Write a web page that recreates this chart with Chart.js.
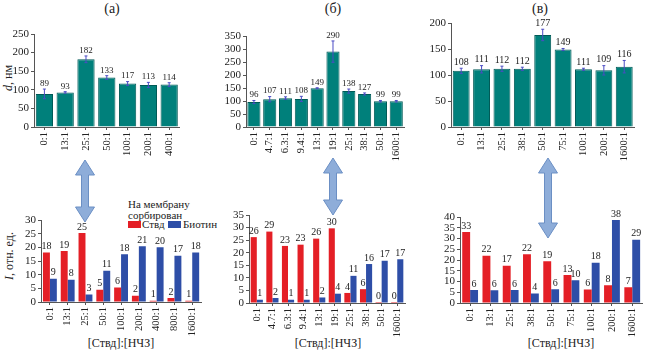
<!DOCTYPE html>
<html>
<head>
<meta charset="utf-8">
<script src="https://cdn.jsdelivr.net/npm/chart.js@4.4.1/dist/chart.umd.min.js"></script>
<style>
body { margin:0; background:#fff; width:647px; height:352px; position:relative; overflow:hidden; font-family:'Liberation Serif', serif; color:#222; }
.box { position:absolute; line-height:0; }
.box canvas { display:block; }
.t { position:absolute; white-space:nowrap; line-height:1; font-family:'Liberation Serif', serif; }
.c { transform:translate(-50%,-50%); }
.r { transform:translate(-50%,-50%) rotate(-90deg); }
.sw { position:absolute; width:13px; height:7px; }
</style>
</head>
<body>

<div class="t c" style="left:112px;top:9px;font-size:14px">(а)</div>
<div class="t c" style="left:333px;top:9px;font-size:14px">(б)</div>
<div class="t c" style="left:540px;top:9px;font-size:14px">(в)</div>

<div class="t r" style="left:8px;top:78px;font-size:12px"><i>d</i>, нм</div>
<div class="t r" style="left:9px;top:256px;font-size:12px"><i>I</i>, отн. ед.</div>

<div class="t c" style="left:121px;top:343px;font-size:12px">[Ствд]:[НЧЗ]</div>
<div class="t c" style="left:328px;top:343px;font-size:12px">[Ствд]:[НЧЗ]</div>
<div class="t c" style="left:561px;top:343px;font-size:12px">[Ствд]:[НЧЗ]</div>

<div class="t" style="left:128px;top:199px;font-size:11px">На мембрану</div>
<div class="t" style="left:128px;top:210px;font-size:11px">сорбирован</div>
<div class="sw" style="left:128px;top:221px;background:#e41f26"></div>
<div class="t" style="left:142px;top:219px;font-size:11px">Ствд</div>
<div class="sw" style="left:168px;top:221px;background:#2e4ea7"></div>
<div class="t" style="left:183px;top:219px;font-size:11px">Биотин</div>

<div id="holder"></div>
<svg id="arrows" width="647" height="352" style="position:absolute;left:0;top:0;pointer-events:none"></svg>

<script>
'use strict';

// ---- top row: particle size, nm ----
var catsTopA = ['0:1', '13:1', '25:1', '50:1', '100:1', '200:1', '400:1'];
var sizeA = [89, 93, 182, 133, 117, 113, 114];
var errA = [13, 2, 9, 5, 5, 7, 5];

var catsTopB = ['0:1', '4.7:1', '6.3:1', '9.4:1', '13:1', '19:1', '25:1', '38:1', '50:1', '1600:1'];
var sizeB = [96, 107, 111, 108, 149, 290, 138, 127, 99, 99];
var errB = [6, 10, 5, 10, 2, 41, 8, 4, 3, 3];

var catsTopC = ['0:1', '13:1', '25:1', '38:1', '50:1', '75:1', '100:1', '200:1', '1600:1'];
var sizeC = [108, 111, 112, 112, 177, 149, 111, 109, 116];
var errC = [5, 7, 5, 3, 11, 2, 2, 9, 12];

// ---- bottom row: intensity ----
var catsBotA = ['0:1', '13:1', '25:1', '50:1', '100:1', '200:1', '400:1', '800:1', '1600:1'];
var stvdA = [18.1, 18.7, 25.2, 4.5, 5.3, 2.3, 0.5, 1.5, 0.5];
var stvdLblA = [18, 19, 25, 5, 6, 2, 1, 2, 1];
var biotA = [8.5, 8.1, 2.7, 11.4, 17.5, 20.4, 20, 16.9, 18.1];
var biotLblA = [9, 8, 3, 11, 18, 21, 20, 17, 18];

var catsBotB = ['0:1', '4.7:1', '6.3:1', '9.4:1', '13:1', '19:1', '25:1', '38:1', '50:1', '1600:1'];
var stvdB = [26.2, 28.4, 22.7, 23.2, 25.6, 29.7, 4, 5.5, 0.4, 0.4];
var stvdLblB = [26, 29, 23, 23, 26, 30, 4, 6, 0, 0];
var biotB = [1.3, 2, 1.3, 1.3, 2.2, 3.7, 10.8, 15.5, 16.8, 17.4];
var biotLblB = [1, 2, 1, 1, 2, 4, 11, 16, 17, 17];

var catsBotC = ['0:1', '13:1', '25:1', '38:1', '50:1', '75:1', '100:1', '200:1', '1600:1'];
var stvdC = [33, 22, 17.3, 22.7, 19.4, 13, 6.3, 8.3, 7.3];
var stvdLblC = [33, 22, 17, 22, 19, 13, 6, 8, 7];
var biotC = [6.1, 5.9, 6.1, 4.4, 6.4, 10.6, 18.7, 38.6, 29.4];
var biotLblC = [6, 6, 6, 4, 6, 10, 18, 38, 29];

var FONT = 'Liberation Serif';
var AXIS = '#555';
var TEAL = '#00807b', TEAL_EDGE = '#005a57';
var RED = '#e41f26', BLUE = '#2e4ea7';

Chart.defaults.font.family = FONT;

// value labels and error bars
var barText = {
  id: 'barText',
  afterDatasetsDraw: function (chart) {
    var c = chart.ctx, y = chart.scales.y;
    var size = chart.options.plugins.barText.size;
    c.save();
    c.font = size + "px 'Liberation Serif'";
    c.textAlign = 'center';
    c.textBaseline = 'bottom';
    chart.data.datasets.forEach(function (ds, i) {
      chart.getDatasetMeta(i).data.forEach(function (bar, j) {
        var top = bar.y;
        if (ds.err) {
          var hi = y.getPixelForValue(ds.data[j] + ds.err[j]);
          var lo = y.getPixelForValue(ds.data[j] - ds.err[j]);
          c.strokeStyle = '#4b4bc4';
          c.lineWidth = 1;
          c.beginPath();
          c.moveTo(bar.x, hi); c.lineTo(bar.x, lo);
          c.moveTo(bar.x - 1.5, hi); c.lineTo(bar.x + 1.5, hi);
          c.moveTo(bar.x - 1.5, lo); c.lineTo(bar.x + 1.5, lo);
          c.stroke();
          top = hi;
        }
        c.fillStyle = '#222';
        c.fillText(ds.lbl[j], bar.x, top - 1);
      });
    });
    c.restore();
  }
};

function panel(box, cats, datasets, ymax, step, lblSize) {
  var padT = 10;
  var w = box.r - box.l + box.yW + 3;
  var h = box.b - box.t + padT + box.xH;
  var div = document.createElement('div');
  div.className = 'box';
  div.style.left = (box.l - box.yW) + 'px';
  div.style.top = (box.t - padT) + 'px';
  var cv = document.createElement('canvas');
  cv.width = w; cv.height = h;
  cv.style.width = w + 'px'; cv.style.height = h + 'px';
  div.appendChild(cv);
  document.getElementById('holder').appendChild(div);

  return new Chart(cv, {
    type: 'bar',
    data: { labels: cats, datasets: datasets },
    options: {
      responsive: false,
      animation: false,
      layout: { padding: { top: padT, right: 3, left: 0, bottom: 0 } },
      plugins: { legend: { display: false }, tooltip: { enabled: false }, barText: { size: lblSize } },
      scales: {
        x: {
          offset: true,
          grid: { display: true, drawOnChartArea: false, offset: false, tickLength: 3, color: AXIS },
          border: { color: AXIS },
          ticks: { font: { family: FONT, size: 10.5 }, color: '#222', minRotation: 90, maxRotation: 90, autoSkip: false, padding: 2 },
          afterFit: function (s) { s.height = box.xH; }
        },
        y: {
          min: 0, max: ymax,
          grid: { display: true, drawOnChartArea: false, tickLength: 3, color: AXIS },
          border: { color: AXIS },
          ticks: { stepSize: step, autoSkip: false, font: { family: FONT, size: 11 }, color: '#222', padding: 2 },
          afterFit: function (s) { s.width = box.yW; }
        }
      }
    },
    plugins: [barText]
  });
}

function sizeSet(data, err) {
  return [{ data: data, err: err, lbl: data, backgroundColor: TEAL, borderColor: TEAL_EDGE, borderWidth: 1,
    categoryPercentage: 1, barPercentage: 0.83 }];
}
function pairSet(s, sl, b, bl) {
  return [
    { data: s, lbl: sl, backgroundColor: RED, categoryPercentage: 0.78, barPercentage: 1 },
    { data: b, lbl: bl, backgroundColor: BLUE, categoryPercentage: 0.78, barPercentage: 1 }
  ];
}

panel({ l: 34, r: 181, t: 34, b: 127, yW: 34, xH: 34 }, catsTopA, sizeSet(sizeA, errA), 250, 50, 9);
panel({ l: 246, r: 408, t: 36, b: 127, yW: 31, xH: 34 }, catsTopB, sizeSet(sizeB, errB), 350, 50, 9);
panel({ l: 451, r: 636, t: 23, b: 127, yW: 31, xH: 34 }, catsTopC, sizeSet(sizeC, errC), 200, 50, 10);

panel({ l: 41, r: 204, t: 220, b: 302, yW: 27, xH: 36 }, catsBotA, pairSet(stvdA, stvdLblA, biotA, biotLblA), 30, 5, 10);
panel({ l: 249, r: 409, t: 215, b: 303, yW: 27, xH: 36 }, catsBotB, pairSet(stvdB, stvdLblB, biotB, biotLblB), 35, 5, 10);
panel({ l: 460, r: 644, t: 217, b: 303, yW: 27, xH: 36 }, catsBotC, pairSet(stvdC, stvdLblC, biotC, biotLblC), 40, 5, 10);

// double arrows linking the rows
function arrow(cx, y1, y2) {
  var hw = 9.5, hh = 15, sw = 3.5;
  var p = [[cx, y1], [cx + hw, y1 + hh], [cx + sw, y1 + hh], [cx + sw, y2 - hh], [cx + hw, y2 - hh], [cx, y2],
    [cx - hw, y2 - hh], [cx - sw, y2 - hh], [cx - sw, y1 + hh], [cx - hw, y1 + hh]];
  var poly = document.createElementNS('http://www.w3.org/2000/svg', 'polygon');
  poly.setAttribute('points', p.map(function (q) { return q.join(','); }).join(' '));
  poly.setAttribute('fill', '#8eadd9');
  poly.setAttribute('stroke', '#6b8fc4');
  poly.setAttribute('stroke-width', '1');
  document.getElementById('arrows').appendChild(poly);
}
arrow(85, 160, 222);
arrow(333, 158, 215);
arrow(548, 158, 238);
</script>
</body>
</html>
